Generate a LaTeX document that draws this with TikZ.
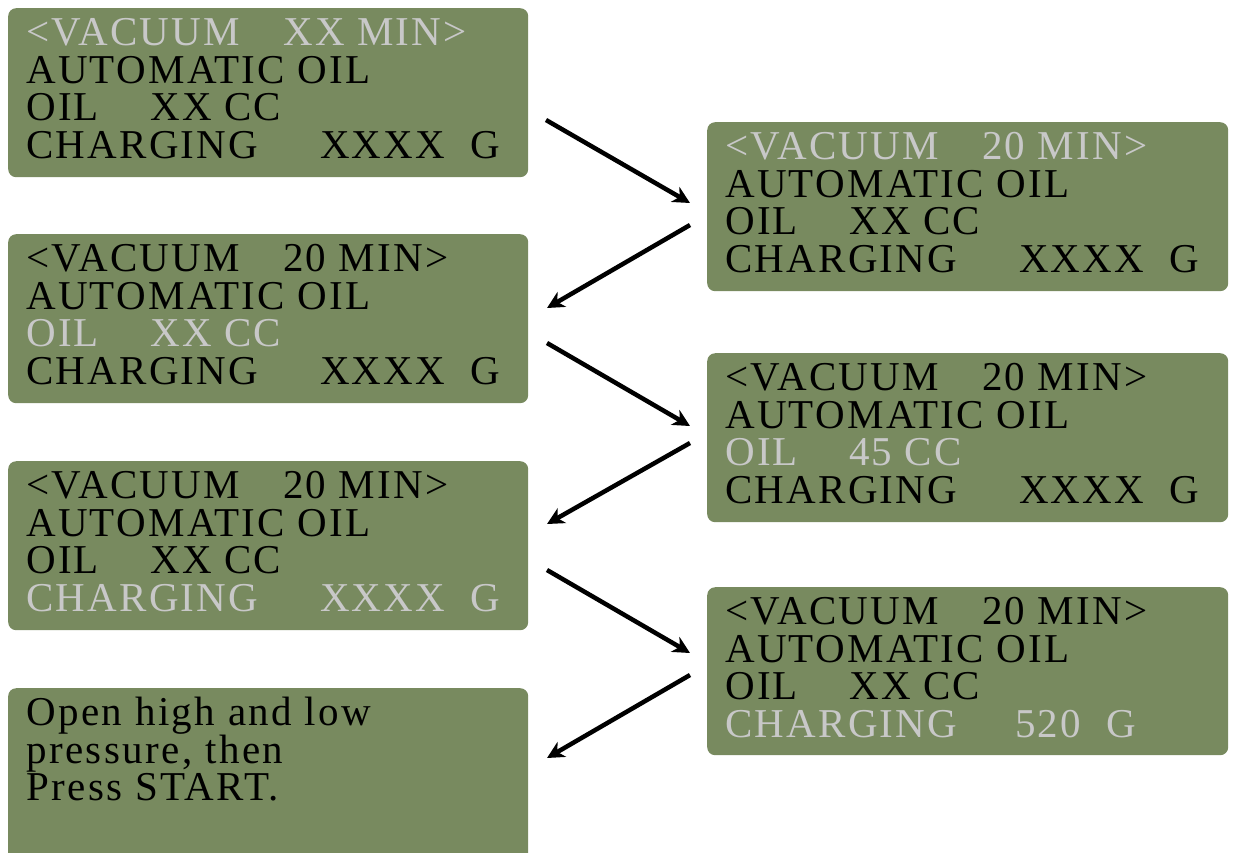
\documentclass[tikz,border=0pt]{standalone}
\usepackage{fontspec}
\newfontfamily\lcd[LetterSpace=5.5]{Liberation Serif}
\newfontfamily\lcdl[LetterSpace=6]{Liberation Serif}
\usetikzlibrary{arrows.meta}
\definecolor{lcdgreen}{HTML}{788A5F}
\definecolor{lcdgrey}{HTML}{C8C8C8}
\tikzset{
  lcdbox/.style={draw=none, fill=lcdgreen, rounded corners=8pt, minimum width=520pt,
    minimum height=169pt, inner sep=0pt, anchor=north west},
  lcdtext/.style={anchor=base west, inner sep=0pt, xshift=18pt, yshift=-37.8pt,
    font=\lcd\fontsize{41}{37.5}\selectfont, text=black},
  lcdmsg/.style={lcdtext, font=\lcdl\fontsize{41}{37.5}\selectfont},
  flow/.style={line width=4.5pt, -{Stealth[length=17pt,width=17pt,inset=5pt]}},
}
\newcommand\LVac[2]{\hbox{\color{#1}\makebox[257pt][l]{<VACUUM}#2 MIN>}}
\newcommand\LAuto[1]{\hbox{\color{#1}AUTOMATIC OIL}}
\newcommand\LOil[2]{\hbox{\color{#1}\makebox[124pt][l]{OIL}#2 CC}}
\newcommand\LChg[4]{\hbox{\color{#1}\makebox[#2][l]{CHARGING}\makebox[#3][l]{#4}G}}
\begin{document}
\begin{tikzpicture}[x=1pt,y=-1pt]
\useasboundingbox (0,0) rectangle (1233,852);
% left column
\node[lcdbox] (L1) at (8,8) {};
\node[lcdtext] (L1t) at (L1.north west) {\vtop{\LVac{lcdgrey}{XX}\LAuto{black}\LOil{black}{XX}\LChg{black}{294pt}{150pt}{XXXX}}};
\node[lcdbox] (L2) at (8,234) {};
\node[lcdtext] (L2t) at (L2.north west) {\vtop{\LVac{black}{20}\LAuto{black}\LOil{lcdgrey}{XX}\LChg{black}{294pt}{150pt}{XXXX}}};
\node[lcdbox] (L3) at (8,461) {};
\node[lcdtext] (L3t) at (L3.north west) {\vtop{\LVac{black}{20}\LAuto{black}\LOil{black}{XX}\LChg{lcdgrey}{294pt}{150pt}{XXXX}}};
\begin{scope}
\clip (0,0) rectangle (1233,852);
\node[lcdbox, minimum height=190pt] (L4) at (8,688) {};
\node[lcdmsg] (L4t) at (L4.north west) {\vtop{\hbox{Open high and low}\hbox{pressure, then}\hbox{Press START.}}};
\end{scope}
% right column
\node[lcdbox, minimum width=521pt] (R1) at (707,122) {};
\node[lcdtext] (R1t) at (R1.north west) {\vtop{\LVac{lcdgrey}{20}\LAuto{black}\LOil{black}{XX}\LChg{black}{294pt}{150pt}{XXXX}}};
\node[lcdbox, minimum width=521pt] (R2) at (707,353) {};
\node[lcdtext] (R2t) at (R2.north west) {\vtop{\LVac{black}{20}\LAuto{black}\LOil{lcdgrey}{45}\LChg{black}{294pt}{150pt}{XXXX}}};
\node[lcdbox, minimum width=521pt, minimum height=168pt] (R3) at (707,587) {};
\node[lcdtext] (R3t) at (R3.north west) {\vtop{\LVac{black}{20}\LAuto{black}\LOil{black}{XX}\LChg{lcdgrey}{290pt}{91pt}{520}}};
% arrow end points
\coordinate (a1s) at (546,120); \coordinate (a1e) at (690,203);
\coordinate (a2s) at (690,225); \coordinate (a2e) at (547,308);
\coordinate (a3s) at (547,343); \coordinate (a3e) at (690,426);
\coordinate (a4s) at (690,443); \coordinate (a4e) at (547,524);
\coordinate (a5s) at (547,570); \coordinate (a5e) at (690,653);
\coordinate (a6s) at (690,675); \coordinate (a6e) at (547,758);
\draw[flow] (a1s) -- (a1e);
\draw[flow] (a2s) -- (a2e);
\draw[flow] (a3s) -- (a3e);
\draw[flow] (a4s) -- (a4e);
\draw[flow] (a5s) -- (a5e);
\draw[flow] (a6s) -- (a6e);
\end{tikzpicture}
\end{document}
